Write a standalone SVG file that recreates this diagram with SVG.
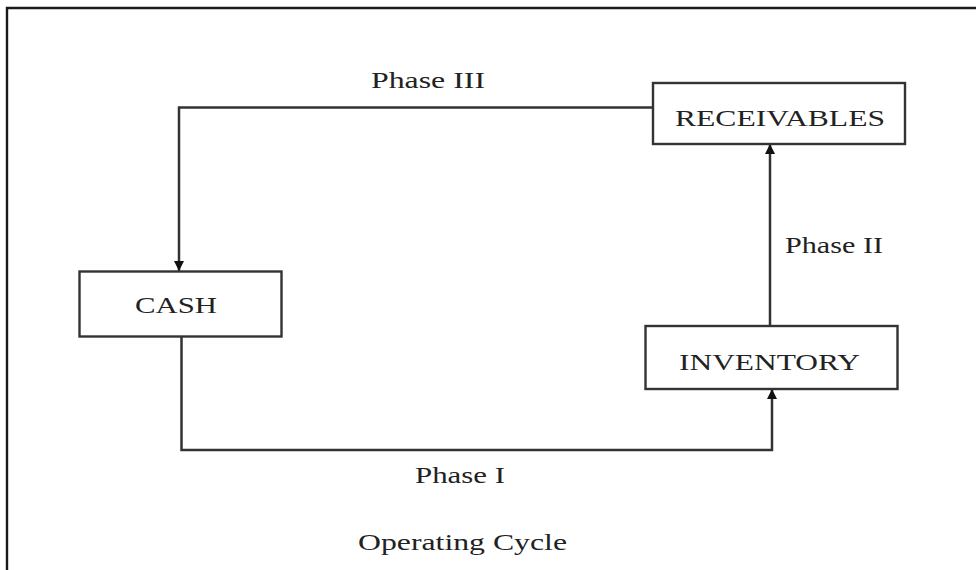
<svg xmlns="http://www.w3.org/2000/svg" width="976" height="570" viewBox="0 0 976 570">
  <style>
    .box { fill: #ffffff; stroke: #333333; stroke-width: 2.4; }
    .label { font-family: "Liberation Serif", "Times New Roman", serif; fill: #222222; }
    .node-text { font-size: 24px; }
    .phase { font-size: 23px; }
    .edge { fill: none; stroke: #333333; stroke-width: 2.5; }
  </style>
  <defs>
    <marker id="arrow" viewBox="0 0 10 10" refX="10" refY="5" markerWidth="4" markerHeight="4" orient="auto" markerUnits="strokeWidth">
      <path d="M0,0 L10,5 L0,10 Z" fill="#111111"/>
    </marker>
  </defs>
  <rect width="976" height="570" fill="#ffffff"/>
  <!-- frame -->
  <polyline points="7,570 7,8 976,8" fill="none" stroke="#1a1a1a" stroke-width="2.4"/>

  <g id="connectors">
    <!-- Phase III: receivables to cash -->
    <polyline class="edge" points="653,107.5 179,107.5 179,271" marker-end="url(#arrow)"/>
    <!-- Phase I: cash to inventory -->
    <polyline class="edge" points="181.5,336 181.5,450 772,450 772,389" marker-end="url(#arrow)"/>
    <!-- Phase II: inventory to receivables -->
    <line class="edge" x1="770" y1="326" x2="770" y2="144" marker-end="url(#arrow)"/>
  </g>

  <g id="receivables">
    <rect class="box" x="653" y="83" width="252" height="61"/>
    <text class="label node-text" x="675" y="126" textLength="210" lengthAdjust="spacingAndGlyphs">RECEIVABLES</text>
  </g>
  <g id="cash">
    <rect class="box" x="79.5" y="271.5" width="202" height="65"/>
    <text class="label node-text" x="135" y="313" textLength="82" lengthAdjust="spacingAndGlyphs">CASH</text>
  </g>
  <g id="inventory">
    <rect class="box" x="645.5" y="326" width="252" height="63"/>
    <text class="label node-text" x="679" y="370" textLength="181" lengthAdjust="spacingAndGlyphs">INVENTORY</text>
  </g>

  <g id="labels">
    <text class="label phase" x="371" y="88" textLength="114" lengthAdjust="spacingAndGlyphs">Phase III</text>
    <text class="label phase" x="785" y="253" textLength="98" lengthAdjust="spacingAndGlyphs">Phase II</text>
    <text class="label phase" x="415" y="483" textLength="90" lengthAdjust="spacingAndGlyphs">Phase I</text>
    <text class="label phase" x="358" y="550" textLength="209" lengthAdjust="spacingAndGlyphs">Operating Cycle</text>
  </g>
</svg>
